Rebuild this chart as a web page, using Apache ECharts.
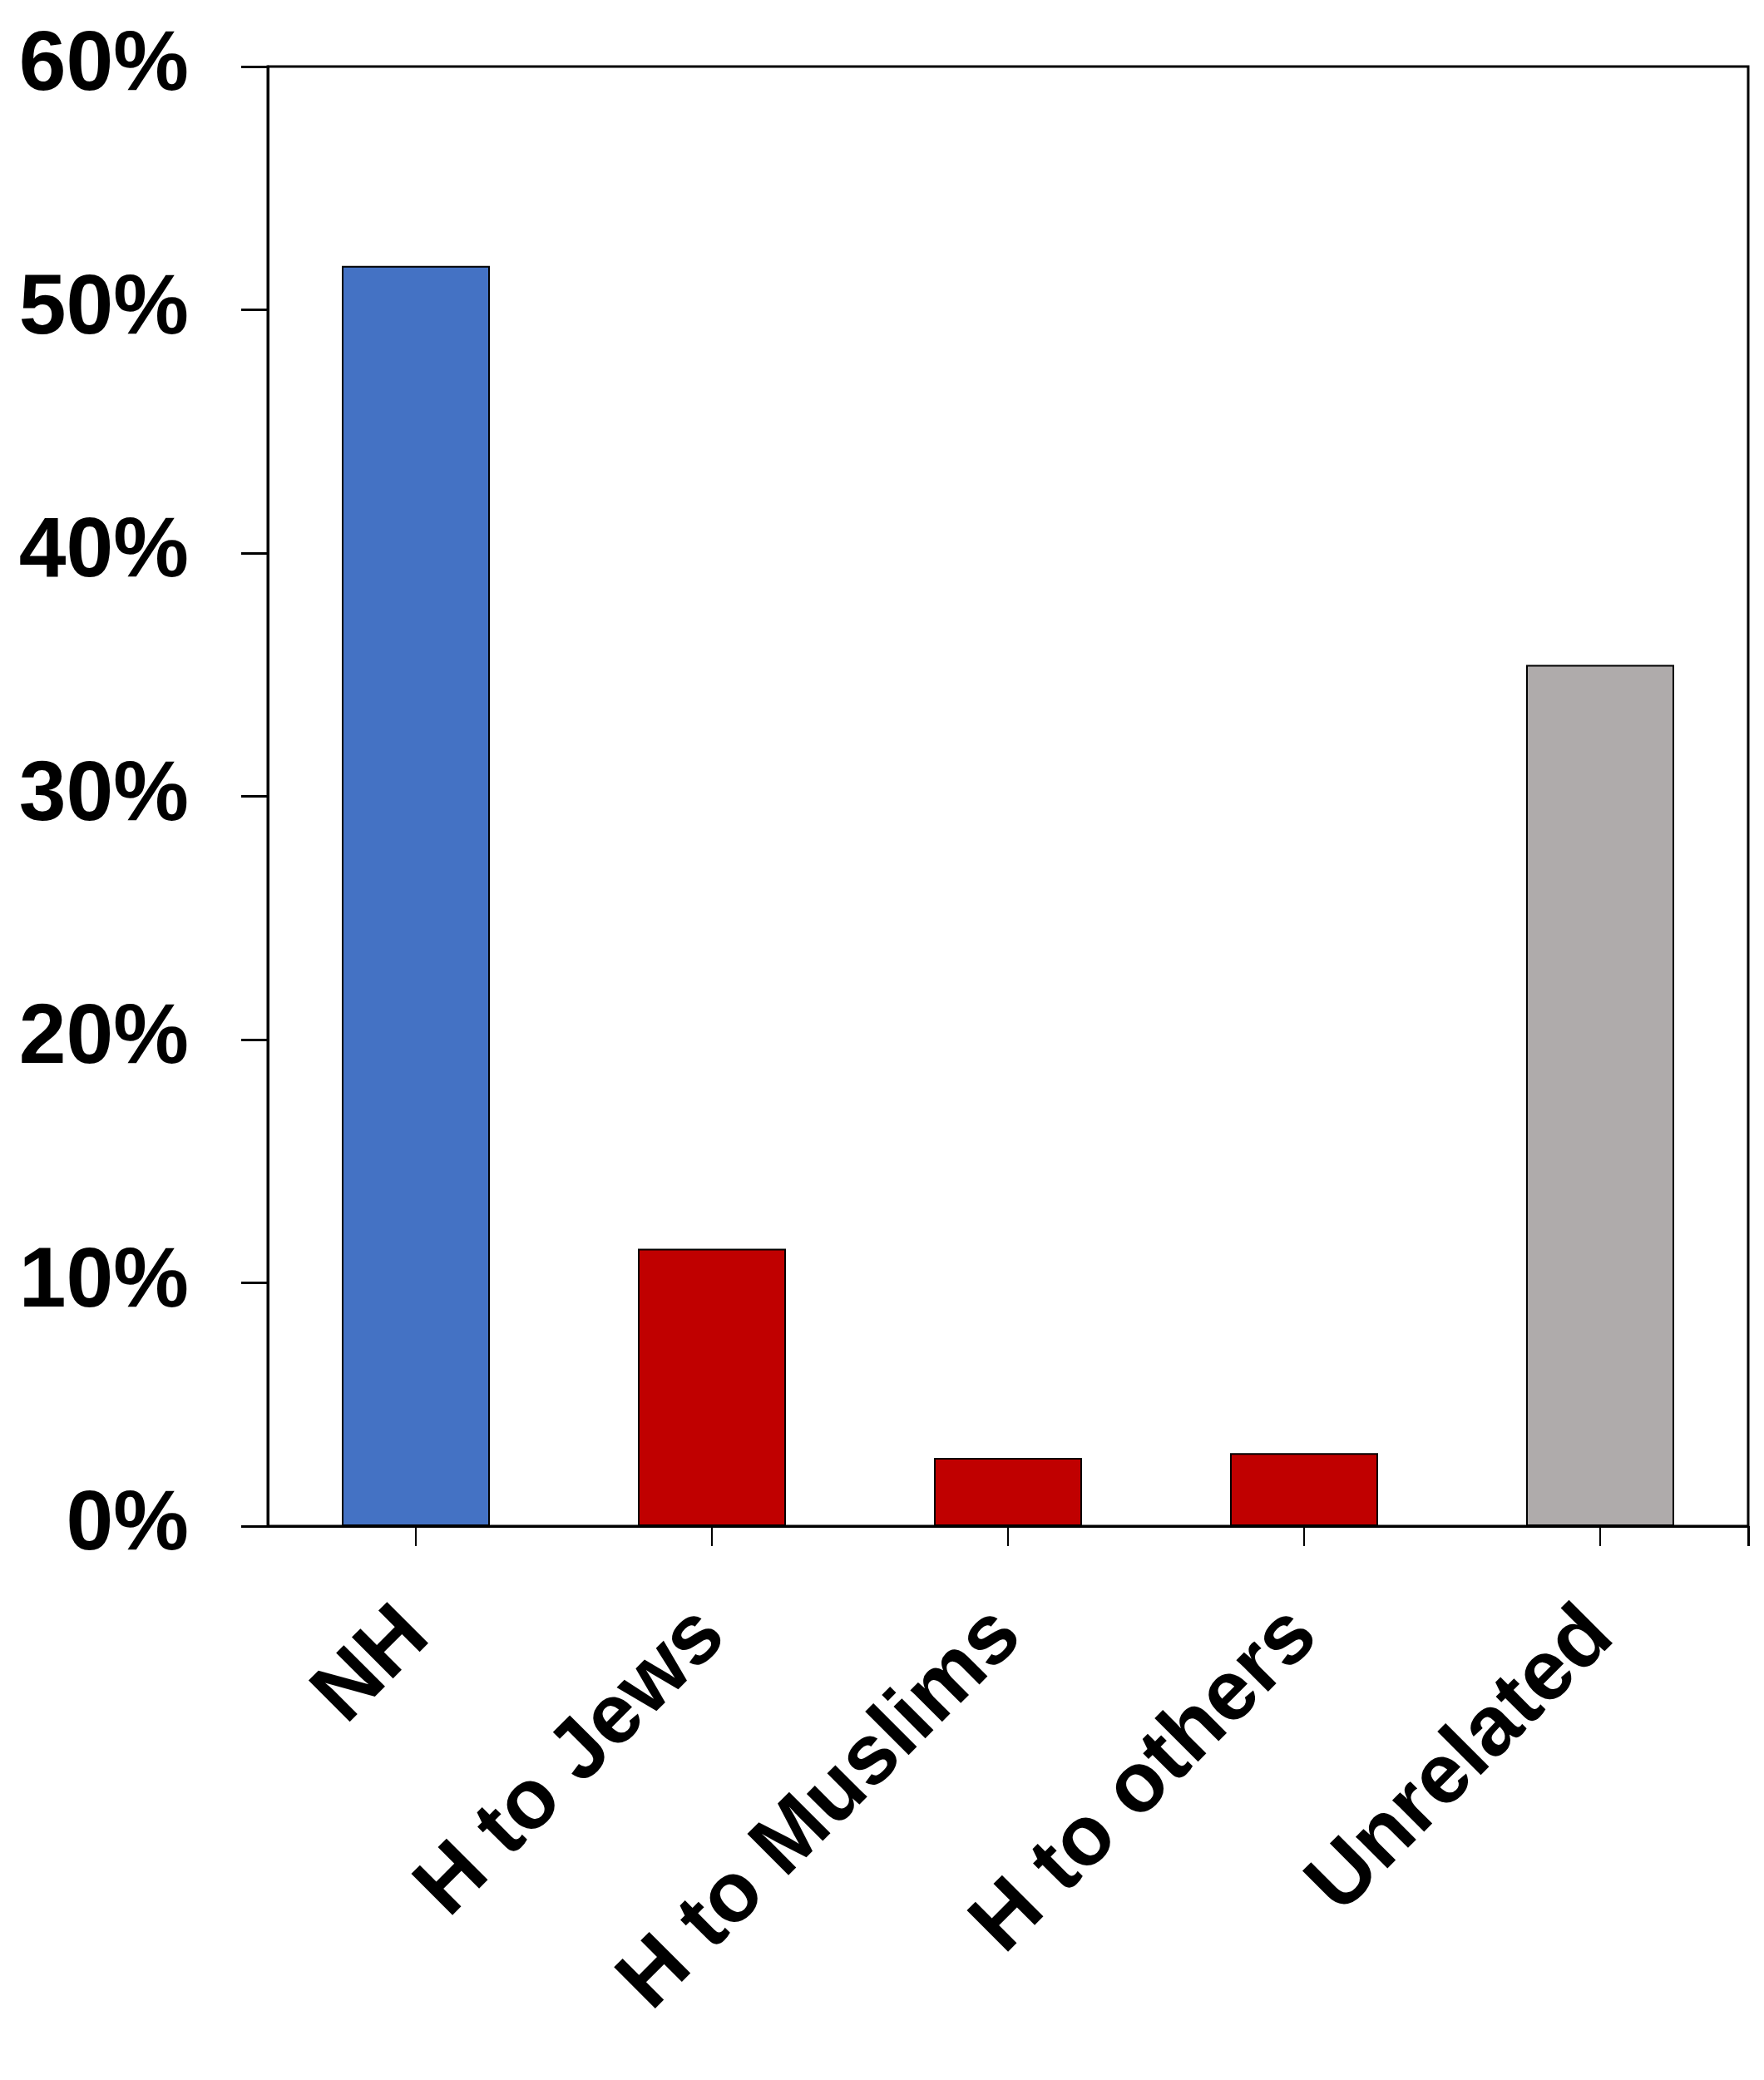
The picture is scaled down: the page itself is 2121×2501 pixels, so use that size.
<!DOCTYPE html>
<html>
<head>
	<meta charset="utf-8"/>
	<title>bar chart</title>
	<script src="https://cdn.jsdelivr.net/npm/echarts@6/dist/echarts.min.js"></script>
	<style>
		html, body { margin: 0; padding: 0; background: #fff; }
		#chart { width: 2121px; height: 2501px; }
	</style>
</head>
<body>
<div id="chart"></div>
<script>
    // data (percent)
    var categories = ['NH', 'H to Jews', 'H to Muslims', 'H to others', 'Unrelated'];
    var shares = [51.8, 11.4, 2.8, 3.0, 35.4];
    var barColors = ['#4472C4', '#C00000', '#C00000', '#C00000', '#AFABAB'];
    var yTicks = [0, 10, 20, 30, 40, 50, 60];

    var fontFamily = '"Liberation Sans", Arial, sans-serif';
    var myChart = echarts.init(document.getElementById('chart'));

    var option = {
        backgroundColor: '#fff',
        animation: false,
        grid: {
            left: 322,
            top: 80,
            right: 19,
            bottom: 666,
            show: true,
            borderColor: '#000',
            borderWidth: 3
        },
        xAxis: [{
            type: 'category',
            data: categories,
            axisLine: { lineStyle: { color: '#000', width: 3 } },
            axisTick: { show: true, interval: 0, alignWithLabel: true, length: 24, lineStyle: { color: '#000', width: 2 } },
            axisLabel: {
                rotate: 45,
                interval: 0,
                margin: 116,
                color: '#000',
                fontSize: 102,
                fontWeight: 'bold',
                fontFamily: fontFamily
            }
        }, {
            // only used for the end tick on the right of the bottom axis
            type: 'value',
            position: 'bottom',
            min: 0,
            max: categories.length,
            axisLine: { show: false },
            axisTick: { show: true, length: 24, customValues: [categories.length], lineStyle: { color: '#000', width: 3 } },
            axisLabel: { show: false },
            splitLine: { show: false }
        }],
        yAxis: {
            type: 'value',
            min: yTicks[0],
            max: yTicks[yTicks.length - 1],
            interval: 10,
            axisLine: { show: true, lineStyle: { color: '#000', width: 3 } },
            axisTick: { show: true, length: 32, lineStyle: { color: '#000', width: 3 } },
            splitLine: { show: false },
            axisLabel: {
                formatter: '{value}%',
                margin: 95,
                color: '#000',
                fontSize: 102,
                fontWeight: 'bold',
                fontFamily: fontFamily
            }
        },
        series: [{
            type: 'bar',
            barWidth: '50%',
            data: shares.map(function (v, i) {
                return {
                    value: v,
                    itemStyle: { color: barColors[i], borderColor: '#000', borderWidth: 2 }
                };
            })
        }]
    };

    myChart.setOption(option);
</script>
</body>
</html>
